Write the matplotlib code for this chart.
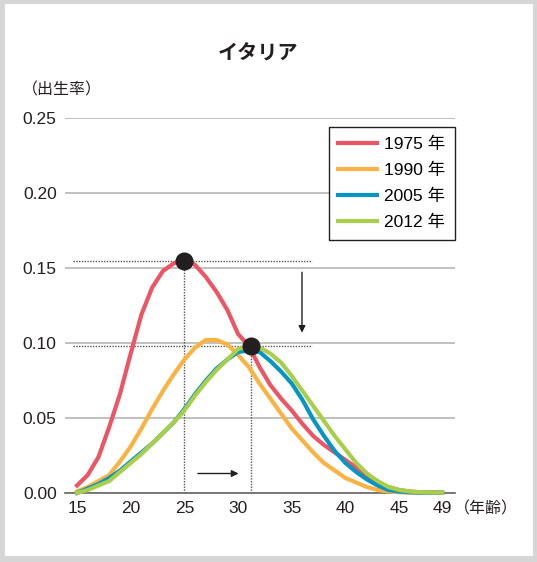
import matplotlib.pyplot as plt
from matplotlib.patches import Rectangle

plt.rcParams['font.family'] = ['Liberation Sans', 'Noto Sans CJK JP']

ages = list(range(15, 50))
rate_1975 = [0.005, 0.012, 0.024, 0.044, 0.066, 0.093, 0.119, 0.137, 0.148, 0.153,
             0.156, 0.152, 0.144, 0.134, 0.122, 0.106, 0.098, 0.084, 0.072, 0.063,
             0.055, 0.046, 0.038, 0.032, 0.027, 0.022, 0.017, 0.010, 0.006, 0.004,
             0.002, 0.001, 0.0005, 0.0003, 0.0002]
rate_1990 = [0.001, 0.004, 0.008, 0.012, 0.021, 0.031, 0.043, 0.056, 0.068, 0.079,
             0.089, 0.097, 0.102, 0.102, 0.099, 0.092, 0.084, 0.073, 0.063, 0.053,
             0.043, 0.035, 0.027, 0.020, 0.015, 0.010, 0.007, 0.004, 0.002, 0.001,
             0.0005, 0.0002, 0.0002, 0.0002, 0.0002]
rate_2005 = [0.0, 0.003, 0.006, 0.010, 0.015, 0.021, 0.027, 0.033, 0.040, 0.047,
             0.056, 0.066, 0.075, 0.083, 0.089, 0.094, 0.095, 0.094, 0.088, 0.081,
             0.073, 0.062, 0.049, 0.038, 0.028, 0.020, 0.014, 0.009, 0.005, 0.002,
             0.001, 0.0005, 0.0002, 0.0002, 0.0002]
rate_2012 = [0.0, 0.002, 0.005, 0.008, 0.014, 0.020, 0.026, 0.033, 0.040, 0.047,
             0.055, 0.065, 0.074, 0.082, 0.089, 0.096, 0.098, 0.097, 0.093, 0.087,
             0.078, 0.068, 0.058, 0.048, 0.038, 0.029, 0.020, 0.013, 0.008, 0.004,
             0.002, 0.001, 0.0005, 0.0003, 0.0002]
series = [rate_1975, rate_1990, rate_2005, rate_2012]
labels = ['1975 年', '1990 年', '2005 年', '2012 年']
colors = ['#EC5563', '#F9B343', '#0795C4', '#A9CF4A']

peaks = [(25, 0.155), (31.2, 0.098)]
xticks = [15, 20, 25, 30, 35, 40, 45, 49]
yticks = [0, 0.05, 0.10, 0.15, 0.20, 0.25]

fig = plt.figure(figsize=(5.37, 5.62), dpi=100)
fig.patch.set_facecolor('#d6d6d6')
panel = Rectangle((5/537, 6/562), 528/537, 552/562, transform=fig.transFigure,
                  facecolor='white', edgecolor='none', zorder=-1)
fig.add_artist(panel)

ax = fig.add_axes([65/537, 69/562, 390/537, 375/562])
ax.set_zorder(2)
ax.set_facecolor('none')
ax.set_xlim(13.88, 50.2)
ax.set_ylim(0, 0.25)

for s, lab, c in zip(series, labels, colors):
    ax.plot(ages, s, color=c, lw=3, label=lab, zorder=3, clip_on=False)

# guide lines and markers
for px, py in peaks:
    ax.plot([14.6, 36.85], [py, py], color='#555555', lw=1, ls=(0, (1, 1)), zorder=2)
    ax.plot([px, px], [0, py], color='#555555', lw=1, ls=(0, (1, 1)), zorder=2)
    ax.plot(px, py, 'o', color='#231f20', ms=12, zorder=5)

ax.annotate('', xy=(35.95, 0.105), xytext=(35.95, 0.149),
            arrowprops=dict(arrowstyle='-|>', color='#231f20', lw=1, mutation_scale=10))
ax.annotate('', xy=(30.3, 0.013), xytext=(26.0, 0.013),
            arrowprops=dict(arrowstyle='-|>', color='#231f20', lw=1, mutation_scale=10))

ax.set_yticks(yticks)
ax.set_yticklabels(['0.00', '0.05', '0.10', '0.15', '0.20', '0.25'])
ax.set_xticks(xticks)
ax.tick_params(axis='both', length=0, labelsize=12.5, colors='#231f20')
ax.tick_params(axis='y', pad=6)
ax.tick_params(axis='x', pad=6)
ax.grid(axis='y', color='#b5b5b5', lw=1.2, zorder=1)
for side in ['left', 'right', 'top']:
    ax.spines[side].set_visible(False)
ax.spines['bottom'].set_color('#666666')
ax.spines['bottom'].set_linewidth(1.2)

fig.text(258/537, 1 - 53/562, 'イタリア', family=['Noto Sans CJK JP'], fontsize=14.5,
         fontweight='bold', ha='center', va='center', color='#231f20')
fig.text(22/537, 1 - 90/562, '（出生率）', family=['Noto Sans CJK JP'], fontsize=11.5,
         ha='left', va='center', color='#231f20')
fig.text(454/537, 1 - 509/562, '（年齢）', family=['Noto Sans CJK JP'], fontsize=11.5,
         ha='left', va='center', color='#231f20')

leg = ax.legend(loc='upper right', bbox_to_anchor=(1.0, 0.976), borderaxespad=0,
                prop={'family': ['Liberation Sans', 'Noto Sans CJK JP'], 'size': 12.5},
                fancybox=False, edgecolor='#231f20', framealpha=1, handlelength=2.2,
                handletextpad=0.45, borderpad=0.55, labelspacing=0.62)
leg.get_frame().set_linewidth(1)
leg.set_zorder(6)

fig.savefig('out.png', dpi=100)
